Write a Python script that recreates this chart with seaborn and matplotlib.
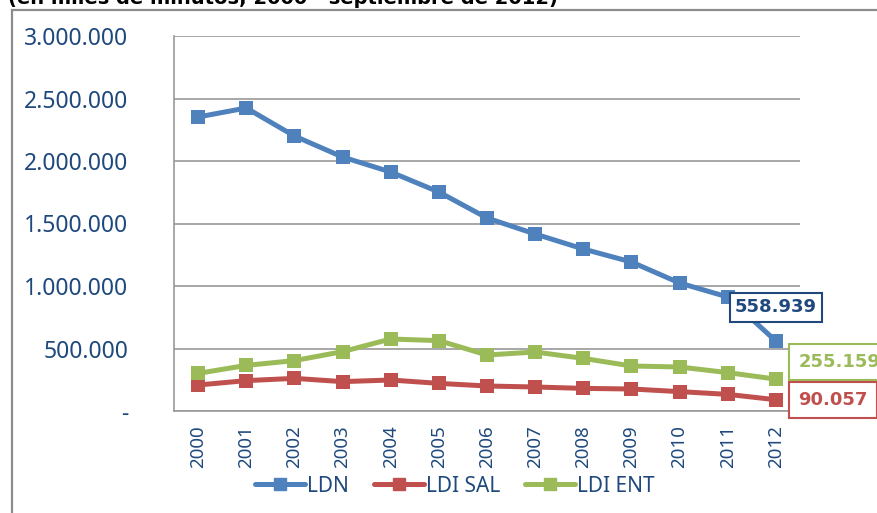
import matplotlib
matplotlib.use("Agg")
import matplotlib.pyplot as plt
import matplotlib.patches as mpatches
from matplotlib.lines import Line2D
from matplotlib.ticker import FixedLocator, FuncFormatter
import seaborn as sns
import pandas as pd

# datos (miles de minutos)
anios = ["2000", "2001", "2002", "2003", "2004", "2005", "2006",
         "2007", "2008", "2009", "2010", "2011", "2012"]
ldn = [2352000, 2424000, 2200000, 2032000, 1912000, 1752000, 1544000,
       1416000, 1296000, 1192000, 1024000, 912000, 558939]
ldi_sal = [208000, 243000, 261000, 235000, 248000, 221000, 200000,
           192000, 181000, 176000, 155000, 133000, 90057]
ldi_ent = [301000, 365000, 403000, 475000, 576000, 563000, 448000,
           472000, 421000, 360000, 352000, 307000, 255159]
series = ["LDN", "LDI SAL", "LDI ENT"]
colores = ["#4F81BD", "#C0504D", "#9BBB59"]
azul_txt = "#1F497D"

df = pd.DataFrame({
    "anio": anios * 3,
    "valor": ldn + ldi_sal + ldi_ent,
    "serie": [s for s in series for _ in anios],
})

sns.set_style("white")
plt.rcParams["font.family"] = ["Noto Sans", "DejaVu Sans"]


def miles(v):
    return f"{int(v):,}".replace(",", ".")


fig = plt.figure(figsize=(8.77, 5.13), dpi=100)
ax = fig.add_axes([174 / 877, 1 - 411 / 513, 626 / 877, 375 / 513])

sns.lineplot(data=df, x="anio", y="valor", hue="serie", palette=colores,
             marker="s", markersize=9.5, markeredgewidth=0, linewidth=3.6,
             ax=ax, legend=False, sort=False)

ax.set_xlim(-0.5, len(anios) - 0.5)
ax.set_ylim(0, 3000000)
ax.set_yticks(range(0, 3000001, 500000))
ax.yaxis.set_major_formatter(FuncFormatter(lambda v, p: "-" if v == 0 else miles(v)))
ax.grid(axis="y", color="#a0a0a0", linewidth=1.3)
ax.grid(axis="x", visible=False)
ax.set_xlabel("")
ax.set_ylabel("")

for lado in ["top", "right"]:
    ax.spines[lado].set_visible(False)
for lado in ["left", "bottom"]:
    ax.spines[lado].set_color("#9a9a9a")
    ax.spines[lado].set_linewidth(1.2)

ax.tick_params(axis="y", length=5, width=1.2, color="#9a9a9a", pad=28,
               labelsize=16.5, labelcolor=azul_txt)
ax.tick_params(axis="x", which="major", length=0, pad=10, labelsize=13.5,
               labelcolor=azul_txt, labelrotation=90)
ax.xaxis.set_minor_locator(FixedLocator([i - 0.5 for i in range(len(anios) + 1)]))
ax.tick_params(axis="x", which="minor", length=5, width=1.2, color="#9a9a9a")

# etiquetas del ultimo dato
ult = len(anios) - 1
fuente_etq = dict(family="DejaVu Sans", fontsize=13, fontweight="bold")
ax.annotate(miles(ldn[-1]), xy=(ult, ldn[-1]),
            xytext=(0, 24.5), textcoords="offset points", ha="center", va="center",
            color=azul_txt, **fuente_etq,
            bbox=dict(boxstyle="square,pad=0.3", fc="white", ec=azul_txt, lw=1.5))
ax.annotate(miles(ldi_ent[-1]), xy=(ult, ldi_ent[-1]),
            xytext=(16, 12), textcoords="offset points", ha="left", va="center",
            color=colores[2], annotation_clip=False, **fuente_etq,
            bbox=dict(boxstyle="square,pad=0.5", fc="white", ec=colores[2], lw=1.5))
ax.annotate(miles(ldi_sal[-1]), xy=(ult, ldi_sal[-1]),
            xytext=(16, 0), textcoords="offset points", ha="left", va="center",
            color=colores[1], annotation_clip=False, **fuente_etq,
            bbox=dict(boxstyle="square,pad=0.5", fc="white", ec=colores[1], lw=1.5))

# leyenda
handles = [Line2D([], [], color=c, marker="s", markersize=9, linewidth=3.6)
           for c in colores]
fig.legend(handles, series, loc="center", bbox_to_anchor=(455 / 877, 1 - 486 / 513),
           ncol=3, frameon=False, fontsize=15, handlelength=2.4, handletextpad=0.1,
           columnspacing=1.2, labelcolor=azul_txt)

# marco del grafico y titulo cortado
fig.add_artist(mpatches.Rectangle((12 / 877, -0.05), 1.2, 1.05 - 10 / 513,
                                  transform=fig.transFigure, fill=False,
                                  ec="#8c8c8c", lw=1.6))
fig.text(8 / 877, 1 - 4 / 513, "(en miles de minutos; 2000 - septiembre de 2012)",
         family="DejaVu Sans", fontsize=14, fontweight="bold", color="black",
         va="baseline", ha="left")

fig.savefig("out.png", dpi=100)
